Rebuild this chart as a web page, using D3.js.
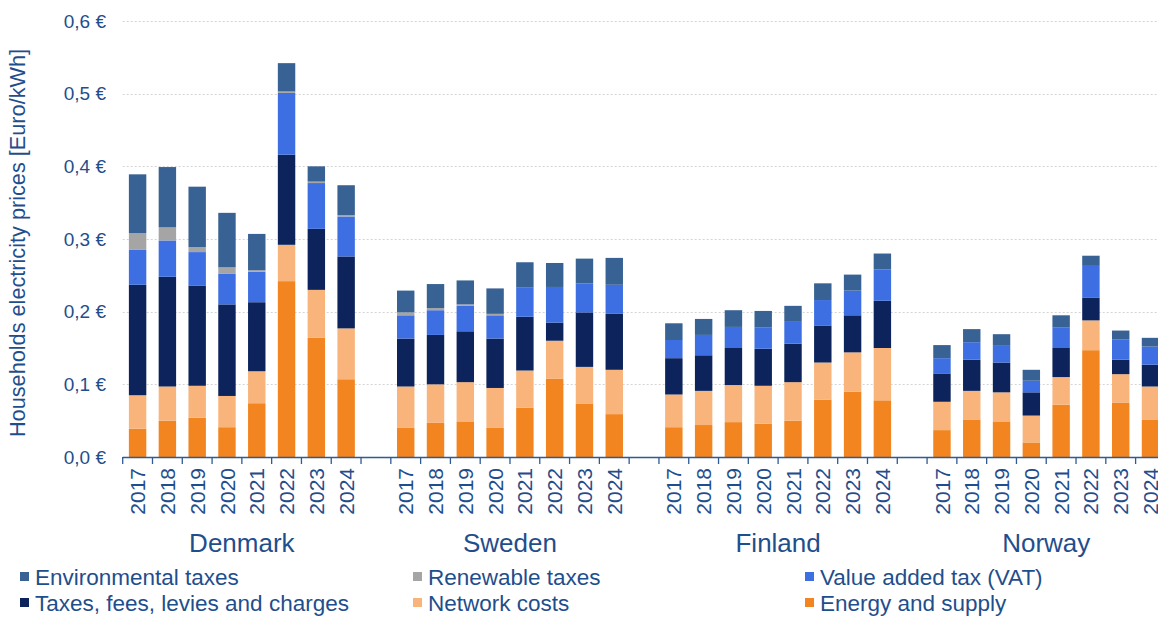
<!DOCTYPE html>
<html>
<head>
<meta charset="utf-8">
<script src="https://cdn.jsdelivr.net/npm/d3@7"></script>
<style>
  body { margin: 0; background: #fff; }
</style>
</head>
<body>
<div id="chart"></div>
<script>
// Data (Euro/kWh), 8 years per country, in country order
var countries = ['Denmark', 'Sweden', 'Finland', 'Norway'];
var years = ['2017', '2018', '2019', '2020', '2021', '2022', '2023', '2024'];
var yTicks = [0, 0.1, 0.2, 0.3, 0.4, 0.5, 0.6];

var energySupply = [0.039, 0.050, 0.054, 0.041, 0.074, 0.242, 0.164, 0.107,
  0.040, 0.047, 0.049, 0.040, 0.068, 0.108, 0.073, 0.059,
  0.041, 0.044, 0.048, 0.046, 0.050, 0.079, 0.090, 0.078,
  0.037, 0.051, 0.049, 0.020, 0.072, 0.147, 0.075, 0.051];
var networkCosts = [0.046, 0.047, 0.044, 0.043, 0.044, 0.050, 0.066, 0.070,
  0.057, 0.053, 0.054, 0.055, 0.051, 0.052, 0.051, 0.061,
  0.045, 0.047, 0.051, 0.052, 0.053, 0.051, 0.054, 0.072,
  0.039, 0.040, 0.040, 0.037, 0.038, 0.041, 0.039, 0.046];
var taxesFees = [0.152, 0.151, 0.138, 0.126, 0.095, 0.124, 0.084, 0.099,
  0.066, 0.068, 0.070, 0.068, 0.074, 0.025, 0.075, 0.077,
  0.050, 0.049, 0.051, 0.051, 0.053, 0.051, 0.051, 0.065,
  0.039, 0.043, 0.041, 0.032, 0.040, 0.031, 0.020, 0.030];
var vat = [0.048, 0.050, 0.046, 0.042, 0.042, 0.085, 0.063, 0.055,
  0.032, 0.034, 0.035, 0.032, 0.040, 0.049, 0.040, 0.040,
  0.025, 0.028, 0.029, 0.029, 0.030, 0.035, 0.034, 0.043,
  0.021, 0.024, 0.023, 0.016, 0.028, 0.044, 0.028, 0.025];
var renewableTaxes = [0.023, 0.018, 0.007, 0.009, 0.002, 0.002, 0.002, 0.002,
  0.004, 0.003, 0.002, 0.002, 0, 0, 0, 0,
  0, 0, 0, 0, 0, 0, 0, 0,
  0, 0, 0, 0, 0, 0, 0, 0];
var environmentalTaxes = [0.081, 0.083, 0.083, 0.075, 0.050, 0.039, 0.021, 0.041,
  0.030, 0.033, 0.033, 0.035, 0.035, 0.033, 0.034, 0.037,
  0.023, 0.022, 0.023, 0.023, 0.022, 0.023, 0.022, 0.022,
  0.018, 0.018, 0.016, 0.015, 0.017, 0.014, 0.012, 0.012];

// bottom -> top stacking order
var seriesKeys = ['energy', 'network', 'taxes', 'vat', 'renewable', 'environmental'];
var seriesLabels = {
  environmental: 'Environmental taxes',
  renewable: 'Renewable taxes',
  vat: 'Value added tax (VAT)',
  taxes: 'Taxes, fees, levies and charges',
  network: 'Network costs',
  energy: 'Energy and supply'
};
var legendOrder = ['environmental', 'renewable', 'vat', 'taxes', 'network', 'energy'];

function Chart() {
  var attrs = {
    svgWidth: 1158,
    svgHeight: 617,
    container: '#chart',
    defaultFont: '"Liberation Sans", Arial, Helvetica, sans-serif',
    textFill: '#1F4E8C',
    colors: {
      environmental: '#386293',
      renewable: '#A5A5A5',
      vat: '#3D6FE2',
      taxes: '#0C245B',
      network: '#F8B47B',
      energy: '#F28520'
    }
  };

  var main = function () {
    var calc = {};
    calc.plotLeft = 122.7;
    calc.plotRight = 1165.4;
    calc.plotTop = 21;
    calc.plotBottom = 457;

    // category slots: 8 years per country, 1 empty slot between countries
    var slots = [];
    countries.forEach(function (c, ci) {
      years.forEach(function (y) { slots.push(c + '|' + y); });
      if (ci < countries.length - 1) slots.push('gap' + ci);
    });

    var rows = [];
    countries.forEach(function (c, ci) {
      years.forEach(function (y, yi) {
        var i = ci * years.length + yi;
        rows.push({
          key: c + '|' + y, country: c, year: y,
          energy: energySupply[i], network: networkCosts[i], taxes: taxesFees[i],
          vat: vat[i], renewable: renewableTaxes[i], environmental: environmentalTaxes[i]
        });
      });
    });

    var x = d3.scaleBand().domain(slots).range([calc.plotLeft, calc.plotRight]).padding(0);
    var y = d3.scaleLinear().domain([0, 0.6]).range([calc.plotBottom, calc.plotTop]);
    var barW = x.bandwidth() * 0.585;

    var svg = d3.select(attrs.container).append('svg')
      .attr('width', attrs.svgWidth)
      .attr('height', attrs.svgHeight)
      .attr('font-family', attrs.defaultFont);

    // gridlines
    svg.append('g').selectAll('line').data(yTicks.filter(function (d) { return d > 0; }))
      .join('line')
      .attr('x1', calc.plotLeft).attr('x2', attrs.svgWidth)
      .attr('y1', function (d) { return Math.round(y(d)) + 0.5; })
      .attr('y2', function (d) { return Math.round(y(d)) + 0.5; })
      .attr('stroke', '#D4D4D4').attr('stroke-width', 1).attr('stroke-dasharray', '2,2');

    // y tick labels
    var fmt = d3.format('.1f');
    svg.append('g').selectAll('text').data(yTicks).join('text')
      .attr('x', 106).attr('y', function (d) { return y(d); })
      .attr('dy', '0.35em').attr('text-anchor', 'end')
      .attr('font-size', 19).attr('fill', attrs.textFill)
      .text(function (d) { return fmt(d).replace('.', ',') + ' €'; });

    // y title
    svg.append('text')
      .attr('transform', 'translate(25,' + 243 + ') rotate(-90)')
      .attr('text-anchor', 'middle')
      .attr('font-size', 21.7).attr('fill', attrs.textFill)
      .text('Households electricity prices [Euro/kWh]');

    // stacked bars
    var stack = d3.stack().keys(seriesKeys)(rows);
    svg.append('g').selectAll('g').data(stack).join('g')
      .attr('fill', function (d) { return attrs.colors[d.key]; })
      .selectAll('rect').data(function (d) { return d; }).join('rect')
      .attr('x', function (d) { return x(d.data.key) + (x.bandwidth() - barW) / 2; })
      .attr('width', barW)
      .attr('y', function (d) { return y(d[1]); })
      .attr('height', function (d) { return Math.max(0, y(d[0]) - y(d[1])); });

    // x axis line + ticks at every slot boundary
    var axisG = svg.append('g').attr('stroke', '#2F5A94').attr('stroke-width', 1.3);
    axisG.append('line')
      .attr('x1', calc.plotLeft).attr('x2', calc.plotRight)
      .attr('y1', calc.plotBottom + 0.5).attr('y2', calc.plotBottom + 0.5);
    var bounds = slots.map(function (s) { return x(s); }).concat([calc.plotRight]);
    axisG.selectAll('line.tick').data(bounds).join('line').attr('class', 'tick')
      .attr('x1', function (d) { return d; }).attr('x2', function (d) { return d; })
      .attr('y1', calc.plotBottom).attr('y2', calc.plotBottom + 7);

    // year labels
    svg.append('g').selectAll('text').data(rows).join('text')
      .attr('transform', function (d) {
        return 'translate(' + (x(d.key) + x.bandwidth() / 2) + ',' + (calc.plotBottom + 11) + ') rotate(-90)';
      })
      .attr('text-anchor', 'end').attr('dy', '0.36em')
      .attr('font-size', 21).attr('fill', attrs.textFill)
      .text(function (d) { return d.year; });

    // country labels
    svg.append('g').selectAll('text').data(countries).join('text')
      .attr('x', function (c) {
        return (x(c + '|' + years[0]) + x(c + '|' + years[years.length - 1]) + x.bandwidth()) / 2;
      })
      .attr('y', 552)
      .attr('text-anchor', 'middle')
      .attr('font-size', 26).attr('fill', attrs.textFill)
      .text(function (c) { return c; });

    // legend
    var legendCols = [20, 413, 805];
    var legendRows = [577, 603];
    var legend = svg.append('g').selectAll('g').data(legendOrder).join('g')
      .attr('transform', function (d, i) {
        return 'translate(' + legendCols[i % 3] + ',' + legendRows[Math.floor(i / 3)] + ')';
      });
    legend.append('rect')
      .attr('x', 0).attr('y', -5).attr('width', 9).attr('height', 9)
      .attr('fill', function (d) { return attrs.colors[d]; });
    legend.append('text')
      .attr('x', 15).attr('dy', '0.35em')
      .attr('font-size', 22.5).attr('fill', attrs.textFill)
      .text(function (d) { return seriesLabels[d]; });
  };

  main.render = function () { main(); return main; };
  return main;
}

Chart().render();
</script>
</body>
</html>
